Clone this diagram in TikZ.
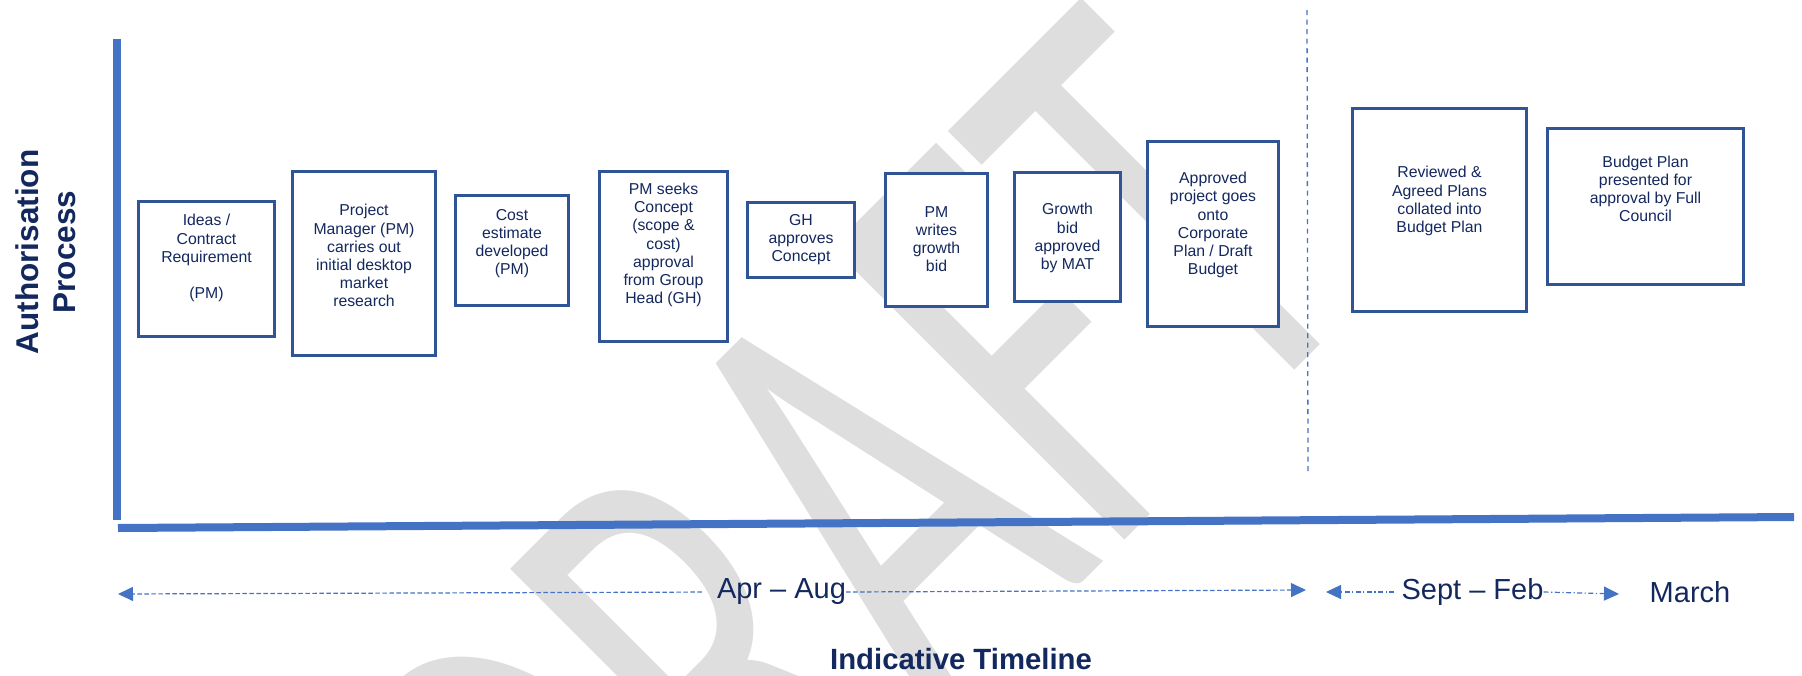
\documentclass[tikz,border=0pt]{standalone}
\usepackage{fontspec}
\setmainfont{Liberation Sans}
\newfontfamily\wmfont{Carlito}
\usetikzlibrary{arrows.meta,positioning}
\definecolor{navy}{HTML}{13285E}
\definecolor{frame}{HTML}{2F5597}
\definecolor{axisblue}{HTML}{4472C4}
\definecolor{watermark}{HTML}{DEDEDE}
\tikzset{stepbox/.style={draw=frame,fill=white,line width=2.6pt,inner sep=0pt},
 steptext/.style={text=navy,align=center,font=\fontsize{15.8}{18.1}\selectfont,inner sep=0pt},
 axisline/.style={axisblue,line width=8pt},
 period/.style={text=navy,font=\fontsize{29}{34}\selectfont,inner sep=0pt},
 spanline/.style={axisblue,line width=1.2pt,dash pattern=on 4.5pt off 2.5pt,-{Triangle[length=15pt,width=14pt]}},
 spandot/.style={axisblue,line width=1.2pt,dash pattern=on 5pt off 2.5pt on 1.2pt off 2.5pt,-{Triangle[length=15pt,width=14pt]}},
 heading/.style={text=navy,font=\bfseries\fontsize{31.5}{37}\selectfont,align=center,inner sep=0pt}}

\begin{document}
\begin{tikzpicture}[x=1pt,y=-1pt]
\useasboundingbox (0,0) rectangle (1802,675);
% watermark, kept inside the page
\begin{scope}
 \clip (0,0) rectangle (1802,675);
 \node[text=watermark,font=\wmfont\fontsize{645}{645}\selectfont,inner sep=0pt,anchor=base west,rotate=45,xscale=0.63] (draft) at (606,1059) {DRAFT};
\end{scope}
% axes
\coordinate (ytop) at (117,39);
\coordinate (ybot) at (117,520);
\coordinate (xleft) at (118,528);
\coordinate (xright) at (1794,517);
\draw[axisline] (ytop) -- (ybot);
\draw[axisline] (xleft) -- (xright);
% split between the two periods
\coordinate (splittop) at (1307,10);
\coordinate (splitbot) at (1308,471);
\draw[axisblue,line width=1.3pt,dash pattern=on 5pt off 4.5pt] (splittop) -- (splitbot);
% process steps: name/x/y/width/height/text y/text
\foreach \nm/\cx/\cy/\w/\h/\ty/\txt in {
 ideas/206.5/269/136/135/258/{Ideas /\\Contract\\Requirement\\[18pt](PM)},
 desk/364/263.5/143/184/255.5/{Project\\Manager (PM)\\carries out\\initial desktop\\market\\research},
 cost/512/250.5/113/110/243.5/{Cost\\estimate\\developed\\(PM)},
 seek/663.5/256.5/128/170/245/{PM seeks\\Concept\\(scope \&\\cost)\\approval\\from Group\\Head (GH)},
 ghok/801/240/107/75/239.5/{GH\\approves\\Concept},
 writes/936.5/240/102/133/239/{PM\\writes\\growth\\bid},
 mat/1067.5/237/106/129/238/{Growth\\bid\\approved\\by MAT},
 corp/1213/234/131/185/225/{Approved\\project goes\\onto\\Corporate\\Plan / Draft\\Budget},
 collate/1439.5/210/174/203/201/{Reviewed \&\\Agreed Plans\\collated into\\Budget Plan},
 council/1645.5/206.5/196/156/189/{Budget Plan\\presented for\\approval by Full\\Council}}{
 \node[stepbox,minimum width=\w pt,minimum height=\h pt] (\nm) at (\cx,\cy) {};
 \node[steptext] (\nm-t) at (\cx,\ty) {\txt};
}
% labels
\node[heading,rotate=90] (authlbl) at (46,252) {Authorisation\\Process};
\node[heading,font=\bfseries\fontsize{29.3}{34}\selectfont] (timelbl) at (961,659) {Indicative Timeline};
% timeline periods
\node[period] (apr) at (781.5,592) {Apr – Aug};
\coordinate (aprL) at (118,594);
\coordinate (aprR) at (1306,590);
\draw[spanline,shorten <=15pt] (apr.west) -- (aprL);
\draw[spanline] (apr.east) -- (aprR);
\node[period] (sept) at (1472.5,592) {Sept – Feb};
\coordinate (septL) at (1326,592);
\coordinate (septR) at (1619,594);
\draw[spandot,shorten <=7pt] (sept.west) -- (septL);
\draw[spandot] (sept.east) -- (septR);
\node[period] (march) at (1690,592) {March};
\end{tikzpicture}
\end{document}
